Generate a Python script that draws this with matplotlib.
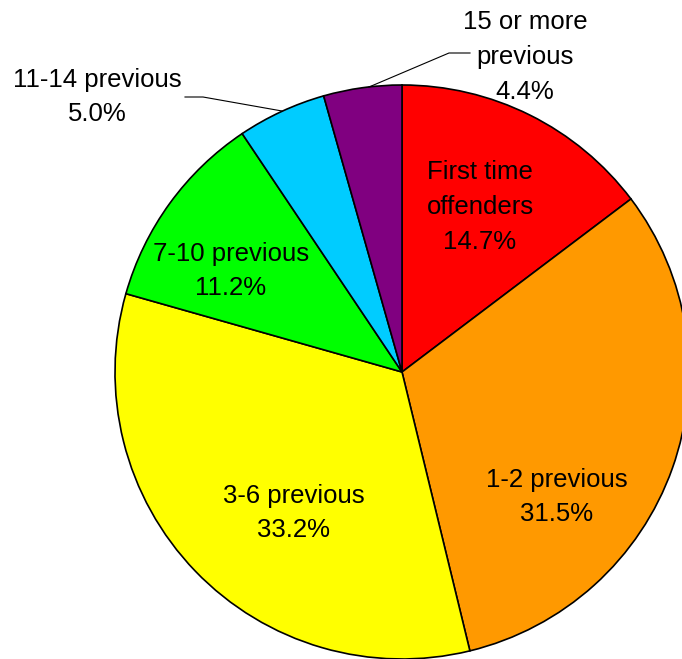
import matplotlib
matplotlib.use("Agg")
import matplotlib.pyplot as plt

categories = ["First time\noffenders", "1-2 previous", "3-6 previous",
              "7-10 previous", "11-14 previous", "15 or more\nprevious"]
values = [14.7, 31.5, 33.2, 11.2, 5.0, 4.4]
colors = ["#FF0000", "#FF9900", "#FFFF00", "#00FF00", "#00CCFF", "#800080"]

plt.rcParams['font.family'] = ['Liberation Sans', 'DejaVu Sans']

W, H = 682, 659
fig = plt.figure(figsize=(W / 100, H / 100), dpi=100)
ax = fig.add_axes([0, 0, 1, 1])

cx, cy, r = 402, H - 372, 287
ax.pie(values, colors=colors, startangle=90, counterclock=False,
       center=(cx, cy), radius=r, frame=True,
       wedgeprops=dict(edgecolor='black', linewidth=1.2))
ax.set_xlim(0, W)
ax.set_ylim(0, H)
ax.set_aspect('equal')
ax.axis('off')

label_pos = [(480, H - 207), (557, H - 497), (294, H - 513),
             (231, H - 271), (97, H - 97), (525, H - 57)]
fs = 18.5
for cat, v, (x, y) in zip(categories, values, label_pos):
    ax.text(x, y, f"{cat}\n{v:.1f}%", ha='center', va='center',
            fontsize=fs, linespacing=1.56, color='black')

# leader lines
ax.plot([185, 203, 282], [H - 97, H - 97, H - 111], color='black', lw=0.8)
ax.plot([369, 449, 470], [H - 87, H - 53, H - 53], color='black', lw=0.8)

fig.savefig("out.png", dpi=100)
